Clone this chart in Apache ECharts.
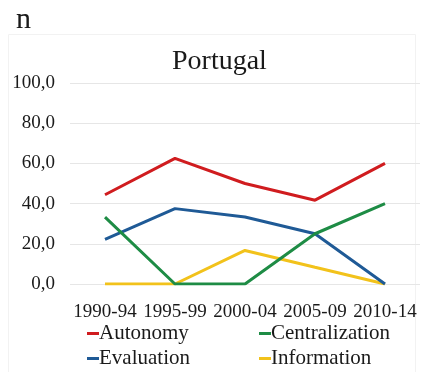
<!DOCTYPE html>
<html>
<head>
<meta charset="utf-8">
<script src="https://cdn.jsdelivr.net/npm/echarts@6/dist/echarts.min.js"></script>
<style>
  html, body { margin: 0; padding: 0; background: #fff; }
  #chart { width: 421px; height: 372px; }
</style>
</head>
<body>
<div id="chart"></div>
<script>
// Periods on the horizontal axis
const periods = ['1990-94', '1995-99', '2000-04', '2005-09', '2010-14'];

// Share of each policy orientation per period (%)
const autonomy       = [44.4, 62.5, 50.0, 41.7, 60.0];
const centralization = [33.3, 0.0, 0.0, 25.0, 40.0];
const evaluation     = [22.2, 37.5, 33.3, 25.0, 0.0];
const information    = [0.0, 0.0, 16.7, 8.3, 0.0];

const serif = '"Liberation Serif", "DejaVu Serif", serif';
const textColor = '#1a1a1a';

const chart = echarts.init(document.getElementById('chart'));

function lineSeries(name, data, color) {
  return {
    name: name,
    type: 'line',
    data: data,
    symbol: 'none',
    lineStyle: { width: 3, color: color },
    itemStyle: { color: color },
    z: 3
  };
}

const legendText = { fontFamily: serif, fontSize: 21, color: textColor, padding: [0, 0, 0, -5] };

chart.setOption({
  backgroundColor: '#ffffff',
  animation: false,
  graphic: [
    {
      type: 'rect',
      shape: { x: 8.5, y: 34.5, width: 407, height: 345 },
      style: { fill: 'none', stroke: '#f2f2f2', lineWidth: 1 },
      silent: true,
      z: 0
    }
  ],
  title: [
    {
      text: 'n',
      left: 11, top: 0,
      textStyle: { fontFamily: serif, fontSize: 30, fontWeight: 'normal', color: textColor }
    },
    {
      text: 'Portugal',
      left: 167, top: 43,
      textStyle: { fontFamily: serif, fontSize: 28, fontWeight: 'normal', color: textColor }
    }
  ],
  grid: { left: 70, right: 1, top: 83, bottom: 88, containLabel: false },
  xAxis: {
    type: 'category',
    data: periods,
    boundaryGap: true,
    axisLine: { show: false },
    axisTick: { show: false },
    axisLabel: { fontFamily: serif, fontSize: 19, color: textColor, margin: 19, interval: 0 }
  },
  yAxis: {
    type: 'value',
    min: 0, max: 100, interval: 20,
    axisLine: { show: false },
    axisTick: { show: false },
    axisLabel: {
      fontFamily: serif, fontSize: 19, color: textColor, margin: 15,
      formatter: v => v.toFixed(1).replace('.', ',')
    },
    splitLine: { lineStyle: { color: '#e6e6e6', width: 1 } }
  },
  legend: [
    {
      orient: 'vertical', left: 87, top: 323, itemGap: 4, padding: 0,
      itemWidth: 12, itemHeight: 3, icon: 'rect',
      textStyle: legendText,
      data: ['Autonomy', 'Evaluation']
    },
    {
      orient: 'vertical', left: 259, top: 323, itemGap: 4, padding: 0,
      itemWidth: 12, itemHeight: 3, icon: 'rect',
      textStyle: legendText,
      data: ['Centralization', 'Information']
    }
  ],
  series: [
    lineSeries('Information', information, '#f2c21b'),
    lineSeries('Evaluation', evaluation, '#1f5a96'),
    lineSeries('Centralization', centralization, '#1e8c45'),
    lineSeries('Autonomy', autonomy, '#d01c1f')
  ]
});
</script>
</body>
</html>
